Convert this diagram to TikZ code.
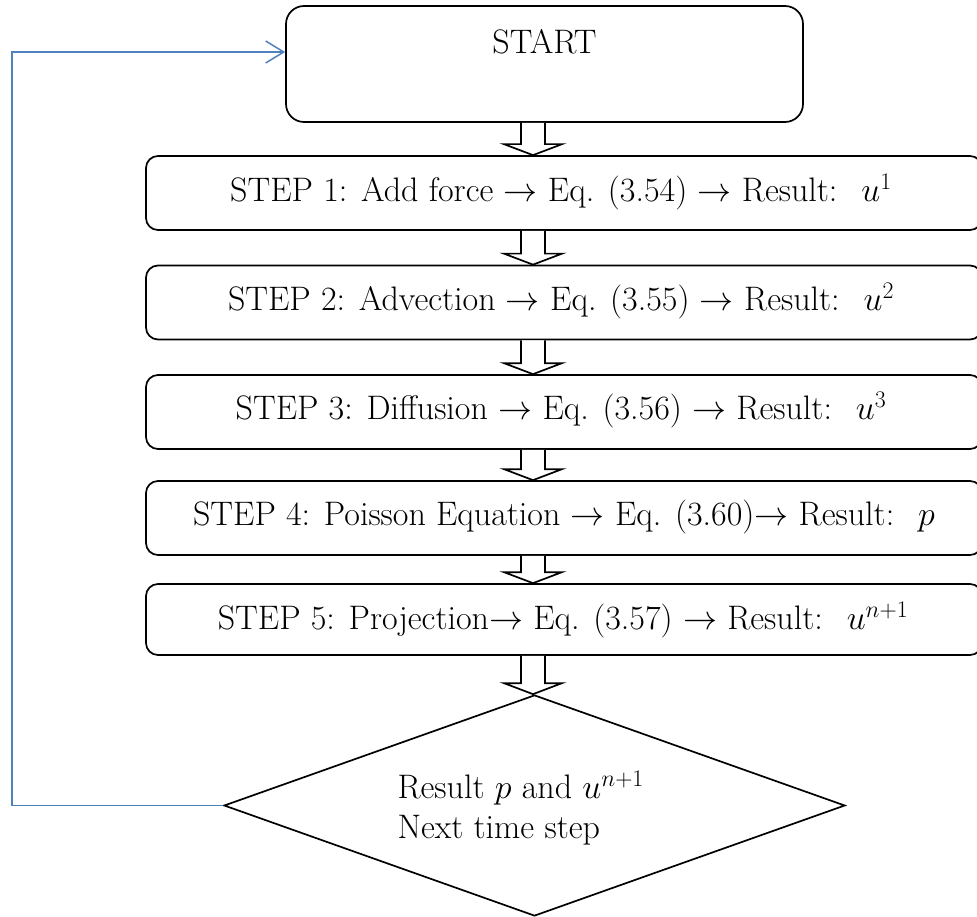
\documentclass[tikz,border=0pt]{standalone}
\usepackage{fix-cm}
\usetikzlibrary{shapes.geometric,arrows.meta,calc}
\begin{document}
\begin{tikzpicture}[x=1pt,y=-1pt,
  every node/.style={font=\fontsize{34}{40}\selectfont},
  startbox/.style={draw=black,line width=1.7pt,rounded corners=18pt,minimum width=517pt,minimum height=116pt,inner sep=0pt},
  stepbox/.style={draw=black,line width=1.7pt,rounded corners=12pt,minimum width=836pt,minimum height=74pt,inner sep=0pt},
  decision/.style={draw=black,line width=1.7pt,diamond,minimum width=621pt,minimum height=221pt,inner sep=0pt},
  blockarrow/.style={draw=black,fill=white,line width=1.7pt,line join=miter},
  looparrow/.style={draw={rgb,255:red,79;green,129;blue,189},line width=1.5pt,-{Straight Barb[length=18pt,width=22pt,line width=1.5pt]}}
]
\useasboundingbox (0,0) rectangle (977,917);
\clip (0,0) rectangle (977,917);
\coordinate (axis) at (533,0);
\coordinate (loopx) at (12,0);

\node[startbox] (start) at (544.5,64) {};
\node[anchor=center] (starttext) at (544.5,42) {START};

\node[stepbox] (s1) at (564,193) {};
\node (t1) at (561,192) {STEP 1: Add force $\rightarrow$ Eq. (3.54) $\rightarrow$ Result: \ $u^{1}$};
\node[stepbox] (s2) at (564,302.5) {};
\node (t2) at (561,301) {STEP 2: Advection $\rightarrow$ Eq. (3.55) $\rightarrow$ Result: \ $u^{2}$};
\node[stepbox] (s3) at (564,412) {};
\node (t3) at (561,410) {STEP 3: Diffusion $\rightarrow$ Eq. (3.56) $\rightarrow$ Result: \ $u^{3}$};
\node[stepbox] (s4) at (564,518) {};
\node (t4) at (564,517) {STEP 4: Poisson Equation $\rightarrow$ Eq. (3.60)$\rightarrow$ Result: \ $p$};
\node[stepbox,minimum height=71pt] (s5) at (564,619.5) {};
\node (t5) at (563,620) {STEP 5: Projection$\rightarrow$ Eq. (3.57) $\rightarrow$ Result: \ $u^{n+1}$};

\node[decision] (dia) at (534.5,805.5) {};
\node[align=left,anchor=west] (dtext) at (394,808) {Result $p$ and $u^{n+1}$\\Next time step};

\newcommand\blockarr[2]{%
  \draw[blockarrow] let \p1=(#1.south -| axis), \p2=(#2.north -| axis) in
   (\x1-12pt,\y1) -- (\x1-12pt,\y2+11pt) -- (\x1-29pt,\y2+11pt) -- (\x2,\y2)
   -- (\x1+29pt,\y2+11pt) -- (\x1+12pt,\y2+11pt) -- (\x1+12pt,\y1);}
\blockarr{start}{s1}
\blockarr{s1}{s2}
\blockarr{s2}{s3}
\blockarr{s3}{s4}
\blockarr{s4}{s5}
\blockarr{s5}{dia}

\coordinate (loopin) at ([yshift=12pt]start.west);
\draw[looparrow] (dia.west) -- (dia.west -| loopx) |- (loopin);
\end{tikzpicture}
\end{document}
